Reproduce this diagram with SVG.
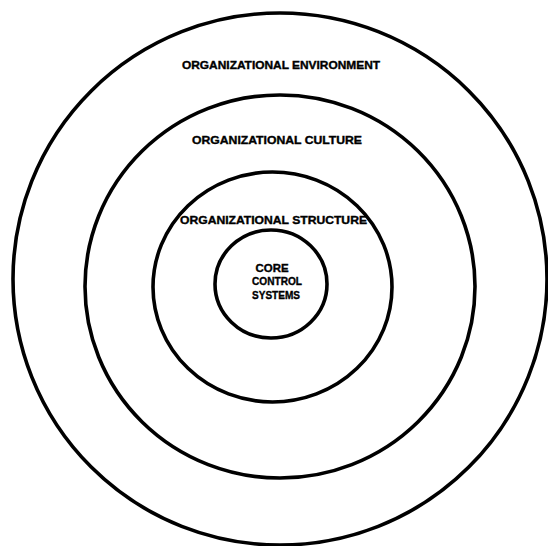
<svg xmlns="http://www.w3.org/2000/svg" width="548" height="546" viewBox="0 0 548 546">
<style>
.ring{fill:none;stroke:#000;stroke-width:3.6}
.lbl{font-family:"Liberation Sans",Arial,sans-serif;font-weight:bold;font-size:10.5px;fill:#000;stroke:#000;stroke-width:0.35;text-anchor:middle}
</style>
<rect width="548" height="546" fill="#fff"/>
<g id="environment">
<ellipse class="ring" cx="280" cy="279" rx="267" ry="266"/>
<text class="lbl" x="281" y="68.5" textLength="198" lengthAdjust="spacingAndGlyphs">ORGANIZATIONAL ENVIRONMENT</text>
</g>
<g id="culture">
<ellipse class="ring" cx="280" cy="286.5" rx="195" ry="191.5"/>
<text class="lbl" x="277" y="143.5" textLength="170" lengthAdjust="spacingAndGlyphs">ORGANIZATIONAL CULTURE</text>
</g>
<g id="structure">
<ellipse class="ring" cx="272.5" cy="287" rx="119.5" ry="115"/>
<text class="lbl" x="273.5" y="223.5" textLength="187" lengthAdjust="spacingAndGlyphs">ORGANIZATIONAL STRUCTURE</text>
</g>
<g id="core">
<ellipse class="ring" cx="271" cy="284" rx="56" ry="54"/>
<text class="lbl" x="272" y="271.5" textLength="33" lengthAdjust="spacingAndGlyphs">CORE</text>
<text class="lbl" x="277" y="285" textLength="50" lengthAdjust="spacingAndGlyphs">CONTROL</text>
<text class="lbl" x="276" y="299" textLength="48" lengthAdjust="spacingAndGlyphs">SYSTEMS</text>
</g>
<g id="connectors"></g>
</svg>
